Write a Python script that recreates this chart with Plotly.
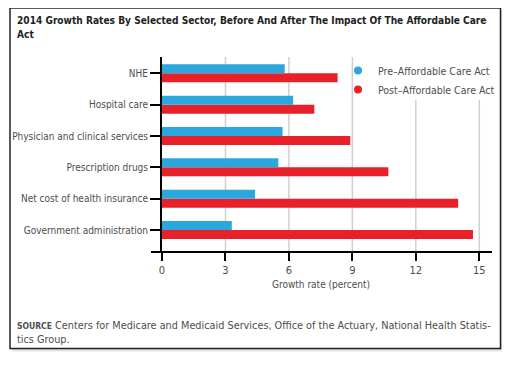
import plotly.graph_objects as go

categories = ["NHE", "Hospital care", "Physician and clinical services", "Prescription drugs",
              "Net cost of health insurance", "Government administration"]
pre_aca = [5.8, 6.2, 5.7, 5.5, 4.4, 3.3]
post_aca = [8.3, 7.2, 8.9, 10.7, 14.0, 14.7]
series_names = ["Pre\u2013Affordable Care Act", "Post\u2013Affordable Care Act"]
x_ticks = [0, 3, 6, 9, 12, 15]

BLUE = "#2aa7df"
RED = "#e8202a"
FONT = "DejaVu Sans Condensed, Liberation Sans Narrow, Roboto, sans-serif"
GREY = "#4d4d4d"

# the page body has an 8px margin: figure is drawn 8px in from the window corner
OFF = 8
FW, FH = 510 - 2 * OFF, 365 - 2 * OFF
# plot area in window pixels
L, R, T, B = 162, 492, 57, 252
W, H = R - L, B - T
X_MAX = 15.6
LEGEND_LEFT, LEGEND_BOTTOM = 356, 100


def px(x):
    return (x - L) / W


def py(y):
    return (B - y) / H


fig = go.Figure()
fig.add_trace(go.Bar(y=categories, x=post_aca, orientation="h", marker_color=RED,
                     marker_line_width=0, showlegend=False, name=series_names[1]))
fig.add_trace(go.Bar(y=categories, x=pre_aca, orientation="h", marker_color=BLUE,
                     marker_line_width=0, showlegend=False, name=series_names[0]))
# legend entries with round markers
fig.add_trace(go.Scatter(x=[None], y=[None], mode="markers", name=series_names[0],
                         marker=dict(color=BLUE, size=8, symbol="circle")))
fig.add_trace(go.Scatter(x=[None], y=[None], mode="markers", name=series_names[1],
                         marker=dict(color=RED, size=8, symbol="circle")))

shapes = [
    # shadow
    dict(type="rect", xref="paper", yref="paper", x0=px(12), x1=px(503), y0=py(351), y1=py(10),
         fillcolor="#dedede", line=dict(color="#e8e8e8", width=1), layer="below"),
    # frame
    dict(type="rect", xref="paper", yref="paper", x0=px(10), x1=px(500.5), y0=py(348.5), y1=py(8),
         fillcolor="white", line=dict(color="#222222", width=1.5), layer="below"),
]
# vertical gridlines at the tick values; those under the legend stop below it
for v in x_ticks[1:]:
    under_legend = L + v / X_MAX * W > LEGEND_LEFT
    shapes.append(dict(type="line", xref="x", yref="paper", x0=v, x1=v, y0=0,
                       y1=py(LEGEND_BOTTOM) if under_legend else 1,
                       line=dict(color="#cfcfcf", width=1.5), layer="below"))
# x axis baseline extending past the plot
shapes.append(dict(type="line", xref="paper", yref="paper", x0=px(151), x1=px(492), y0=0, y1=0,
                   line=dict(color="black", width=2), layer="above"))

TITLE_FONT = dict(family=FONT, size=10.1, color="#222222")
annotations = [
    dict(xref="paper", yref="paper", x=px(15), y=py(20), xanchor="left", yanchor="middle",
         align="left", showarrow=False,
         text="<b>2014 Growth Rates By Selected Sector, Before And After The Impact Of The Affordable Care</b>",
         font=TITLE_FONT),
    dict(xref="paper", yref="paper", x=px(15), y=py(34.5), xanchor="left", yanchor="middle",
         align="left", showarrow=False, text="<b>Act</b>", font=TITLE_FONT),
    dict(xref="x", yref="paper", x=7.5, y=py(284), xanchor="center", yanchor="middle",
         showarrow=False, text="Growth rate (percent)",
         font=dict(family=FONT, size=10, color=GREY)),
    dict(xref="paper", yref="paper", x=px(15), y=py(325), xanchor="left", yanchor="middle",
         align="left", showarrow=False,
         text="<b><span style='font-size:8.5px'>SOURCE</span></b> Centers for Medicare and Medicaid Services, Office of the Actuary, National Health Statis-",
         font=dict(family=FONT, size=10.8, color=GREY)),
    dict(xref="paper", yref="paper", x=px(15), y=py(339), xanchor="left", yanchor="middle",
         align="left", showarrow=False, text="tics Group.",
         font=dict(family=FONT, size=10.8, color=GREY)),
]

fig.update_layout(
    width=FW, height=FH,
    margin=dict(l=L - OFF, r=(510 - OFF) - R, t=T - OFF, b=(365 - OFF) - B, autoexpand=False),
    paper_bgcolor="white", plot_bgcolor="rgba(0,0,0,0)",
    barmode="group", bargap=0.425, bargroupgap=0,
    font=dict(family=FONT, size=10, color=GREY),
    showlegend=True,
    legend=dict(x=px(338), y=py(56), xanchor="left", yanchor="top", bgcolor="rgba(0,0,0,0)",
                font=dict(family=FONT, size=10.5, color=GREY), itemwidth=30,
                tracegroupgap=0),
    shapes=shapes, annotations=annotations,
    xaxis=dict(range=[0, X_MAX], tickvals=x_ticks, ticktext=[str(v) for v in x_ticks],
               showgrid=False, zeroline=False,
               showline=False, ticks="outside", ticklen=8, tickwidth=2, tickcolor="black",
               tickfont=dict(family=FONT, size=11, color=GREY)),
    yaxis=dict(categoryorder="array", categoryarray=categories[::-1], range=[-0.70, 5.52],
               showgrid=False, zeroline=False, showline=True, linecolor="black", linewidth=2,
               ticks="outside", ticklen=10, tickwidth=2, tickcolor="black",
               tickfont=dict(family=FONT, size=10, color=GREY)),
)

fig.write_html("out.html")
